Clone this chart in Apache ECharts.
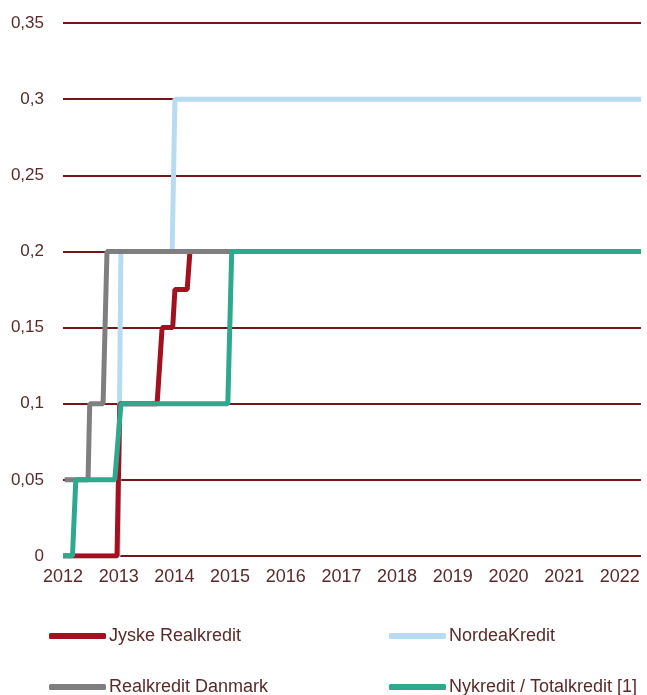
<!DOCTYPE html>
<html>
<head>
<meta charset="utf-8">
<script src="https://cdn.jsdelivr.net/npm/echarts@6/dist/echarts.min.js"></script>
<style>
  html, body { margin: 0; padding: 0; background: #fff; }
  #chart { width: 647px; height: 695px; }
</style>
</head>
<body>
<div id="chart"></div>
<script>
// data points [year, value] (step changes)
var jyske = [[2012, 0], [2012.97, 0], [2013.02, 0.1], [2013.69, 0.1], [2013.78, 0.15], [2013.97, 0.15],
  [2014.01, 0.175], [2014.23, 0.175], [2014.28, 0.2], [2022.38, 0.2]];
var nordea = [[2012, 0], [2012.99, 0], [2013.04, 0.2], [2013.96, 0.2], [2014.01, 0.3], [2022.38, 0.3]];
var realkredit = [[2012.03, 0.05], [2012.45, 0.05], [2012.48, 0.1], [2012.72, 0.1], [2012.79, 0.2], [2022.38, 0.2]];
var nykredit = [[2012, 0], [2012.17, 0], [2012.23, 0.05], [2012.93, 0.05], [2013.04, 0.1], [2014.96, 0.1],
  [2015.03, 0.2], [2022.38, 0.2]];

var seriesNames = ["Jyske Realkredit", "NordeaKredit", "Realkredit Danmark", "Nykredit / Totalkredit [1]"];
var seriesColors = ["#a3101f", "#b7dcf2", "#7f7f7f", "#2ea98d"];

var textColor = "#5a2a2a";
var gridColor = "#731818";

var myChart = echarts.init(document.getElementById("chart"));

function mkLine(name, data, color) {
  return {
    name: name,
    type: "line",
    data: data,
    symbol: "none",
    lineStyle: { color: color, width: 5 },
    itemStyle: { color: color },
    animation: false
  };
}

// one legend per item so the 2x2 layout can be placed exactly
function mkLegend(name, left, top) {
  return {
    left: left,
    top: top,
    data: [name],
    itemWidth: 57,
    itemHeight: 6,
    icon: "roundRect",
    padding: 0,
    textStyle: { color: textColor, fontSize: 18, fontFamily: "Liberation Sans", padding: [0, 0, 0, -2] }
  };
}

var option = {
  backgroundColor: "#fff",
  animation: false,
  grid: { left: 63, right: 6, top: 23, bottom: 139 },
  legend: [
    mkLegend(seriesNames[0], 49, 627),
    mkLegend(seriesNames[1], 389, 627),
    mkLegend(seriesNames[2], 49, 678),
    mkLegend(seriesNames[3], 389, 678)
  ],
  xAxis: {
    type: "value",
    min: 2012,
    max: 2022.38,
    interval: 1,
    splitLine: { show: false },
    axisLine: { show: false },
    axisTick: { show: false },
    axisLabel: {
      color: textColor,
      fontSize: 18,
      fontFamily: "Liberation Sans",
      margin: 12,
      formatter: function (v) { return Number.isInteger(v) ? String(v) : ""; }
    }
  },
  yAxis: {
    type: "value",
    min: 0,
    max: 0.35,
    interval: 0.05,
    axisLine: { show: false },
    axisTick: { show: false },
    splitLine: { lineStyle: { color: gridColor, width: 2 } },
    axisLabel: {
      color: textColor,
      fontSize: 17,
      fontFamily: "Liberation Sans",
      margin: 19,
      formatter: function (v) { return String(+v.toFixed(2)).replace(".", ","); }
    }
  },
  // draw order: blue under red under gray under teal
  series: [
    mkLine(seriesNames[1], nordea, seriesColors[1]),
    mkLine(seriesNames[0], jyske, seriesColors[0]),
    mkLine(seriesNames[2], realkredit, seriesColors[2]),
    mkLine(seriesNames[3], nykredit, seriesColors[3])
  ]
};

myChart.setOption(option);
</script>
</body>
</html>
